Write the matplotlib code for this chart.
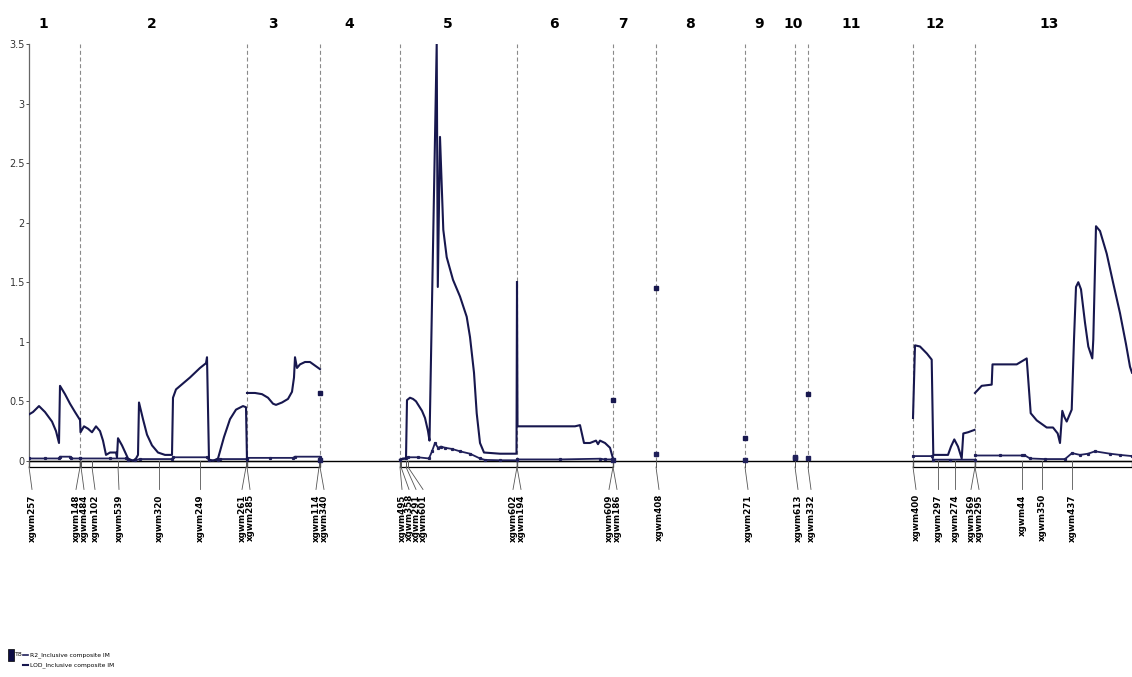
import matplotlib
matplotlib.use('Agg')
import matplotlib.pyplot as plt
from matplotlib.patches import Rectangle

# chromosome names and where they start (map position)
chrom_names = ['1', '2', '3', '4', '5', '6', '7', '8', '9', '10', '11', '12', '13']
chrom_label_x = [43, 152, 273, 349, 448, 554, 623, 690, 759, 793, 851, 935, 1049]
chrom_breaks = [80, 247, 320, 400, 517, 613, 656, 745, 795, 808, 913, 975]
chrom_bars = [(29, 80), (80, 247), (247, 320), (400, 517), (517, 613), (913, 975), (975, 1132)]

# markers
marker_names = ['xgwm257', 'xgwm148', 'xgwm484', 'xgwm102', 'xgwm539', 'xgwm320', 'xgwm249',
                'xgwm261', 'xgwm285', 'xgwm114', 'xgwm340', 'xgwm495', 'xgwm358', 'xgwm291',
                'xgwm601', 'xgwm602', 'xgwm194', 'xgwm609', 'xgwm186', 'xgwm408', 'xgwm271',
                'xgwm613', 'xgwm332', 'xgwm400', 'xgwm297', 'xgwm274', 'xgwm369', 'xgwm295',
                'xgwm44', 'xgwm350', 'xgwm437']
marker_pos = [29, 80, 81, 92, 118, 159, 200, 246, 247, 319, 320, 400, 401, 406, 408, 517, 517,
              613, 613, 656, 745, 795, 808, 913, 938, 955, 975, 975, 1022, 1042, 1072]
label_shift = [3, -4, 3, 3, 1, 0, 0, -4, 3, -3, 4, 2, 8, 10, 15, -4, 4, -4, 4, 3, 3, 3, 3, 3,
               0, 0, -4, 4, 0, 0, 0]

# LOD curves, one list per linkage group
lod_x = [
    [29, 33, 39, 45, 52, 56, 59, 60, 65, 70, 75, 79.5],
    [80, 80.5, 84, 88, 92, 96, 100, 103, 106, 110, 116, 117, 118, 122, 128, 133, 136, 138, 139,
     143, 147, 152, 158, 165, 172, 173, 176, 190, 200, 206, 207, 209, 213, 218, 224, 230, 236,
     243, 246, 247],
    [247, 255, 262, 268, 273, 276, 282, 288, 292, 294, 295, 297, 300, 305, 310, 315, 320],
    [400, 403, 406, 407, 410, 413, 416, 419, 422, 425, 428, 429.5, 436.7, 437.8, 440, 443.3,
     446.7, 453, 460, 466.7, 470, 474, 476.7, 480, 484, 500, 516.5, 517],
    [517, 517.5, 530, 560, 575, 580, 584, 590, 596, 598, 600, 605, 610, 613],
    [913, 915, 920, 927, 931.7, 933.3, 948, 951, 954.3, 958, 961.7, 963.3, 968, 974.5],
    [975, 981.7, 991.7, 992.5, 1005, 1016.7, 1026.7, 1030.7, 1036.7, 1046.7, 1053, 1057.7, 1060,
     1062.3, 1064.3, 1066.7, 1071.7, 1074, 1076, 1078.3, 1081, 1085, 1088.3, 1092.3, 1093.3,
     1096, 1100, 1106.7, 1113, 1120, 1126, 1130, 1132],
]
lod_y = [
    [0.39, 0.41, 0.46, 0.41, 0.33, 0.25, 0.15, 0.63, 0.56, 0.48, 0.41, 0.35],
    [0.35, 0.24, 0.29, 0.27, 0.24, 0.29, 0.25, 0.17, 0.05, 0.07, 0.07, 0.03, 0.19, 0.13, 0.02,
     0.0, 0.02, 0.05, 0.49, 0.35, 0.22, 0.13, 0.07, 0.05, 0.05, 0.53, 0.6, 0.7, 0.78, 0.82, 0.87,
     0.01, 0.0, 0.02, 0.2, 0.35, 0.43, 0.46, 0.45, 0.0],
    [0.57, 0.57, 0.56, 0.53, 0.48, 0.47, 0.49, 0.52, 0.58, 0.7, 0.87, 0.78, 0.81, 0.83, 0.83,
     0.8, 0.77],
    [0.01, 0.02, 0.02, 0.51, 0.53, 0.52, 0.5, 0.46, 0.42, 0.36, 0.25, 0.17, 3.5, 1.46, 2.72,
     1.94, 1.71, 1.52, 1.38, 1.21, 1.04, 0.74, 0.4, 0.15, 0.07, 0.06, 0.06, 1.5],
    [1.5, 0.29, 0.29, 0.29, 0.29, 0.3, 0.15, 0.15, 0.17, 0.14, 0.17, 0.15, 0.11, 0.02],
    [0.36, 0.97, 0.96, 0.9, 0.85, 0.05, 0.05, 0.12, 0.18, 0.12, 0.02, 0.23, 0.24, 0.26],
    [0.57, 0.63, 0.64, 0.81, 0.81, 0.81, 0.86, 0.4, 0.34, 0.28, 0.28, 0.23, 0.15, 0.42, 0.37,
     0.33, 0.43, 1.02, 1.46, 1.5, 1.44, 1.16, 0.96, 0.86, 1.02, 1.97, 1.93, 1.74, 1.5, 1.24,
     0.98, 0.79, 0.74],
]

# R2 curves
r2_x = [
    [29, 45, 59, 60, 70, 71, 79.5],
    [80, 110, 126, 128, 135, 140, 172, 173, 207, 209, 218, 220, 247],
    [247, 270, 293, 295, 320],
    [400, 406, 408, 418, 429, 432, 435, 438, 441, 445, 452, 460, 470, 480, 485, 500, 517],
    [517, 560, 600, 605, 613],
    [913, 932, 933, 950, 975],
    [975, 1000, 1022, 1024, 1030, 1045, 1065, 1072, 1080, 1088, 1095, 1110, 1120, 1132],
]
r2_y = [
    [0.02, 0.02, 0.02, 0.035, 0.035, 0.02, 0.02],
    [0.02, 0.02, 0.02, 0.005, 0.005, 0.015, 0.015, 0.03, 0.03, 0.005, 0.005, 0.015, 0.015],
    [0.025, 0.025, 0.025, 0.035, 0.035],
    [0.01, 0.02, 0.03, 0.03, 0.02, 0.08, 0.15, 0.11, 0.12, 0.11, 0.1, 0.08, 0.06, 0.02, 0.008,
     0.005, 0.005],
    [0.012, 0.012, 0.018, 0.012, 0.012],
    [0.04, 0.04, 0.01, 0.01, 0.01],
    [0.045, 0.045, 0.045, 0.05, 0.02, 0.015, 0.015, 0.065, 0.05, 0.06, 0.08, 0.06, 0.05, 0.04],
]

# single-marker groups (plotted as points)
single_x = [320, 613, 656, 745, 795, 808]
single_lod = [0.57, 0.51, 1.45, 0.19, 0.02, 0.56]
single_r2 = [0.01, 0.01, 0.06, 0.01, 0.03, 0.02]

y_ticks = [0, 0.5, 1, 1.5, 2, 2.5, 3, 3.5]
y_tick_labels = ['0', '0.5', '1', '1.5', '2', '2.5', '3', '3.5']

lod_color = '#17174e'
r2_color = '#20205a'
narrow = ['Liberation Sans Narrow', 'DejaVu Sans']

fig = plt.figure(figsize=(11.32, 6.77), dpi=100)
ax = fig.add_axes([29 / 1132, 1 - 468 / 677, 1103 / 1132, 424 / 677])
ax.set_xlim(29, 1132)
ax.set_ylim(-0.06, 3.5)

# chromosome boundaries
for b in chrom_breaks:
    ax.plot([b, b], [0, 3.5], color='#8a8a8a', lw=0.8, dashes=(3.6, 2.4), zorder=1)

# zero line
ax.axhline(0, color='black', lw=1.0, zorder=3)

# LOD and R2 curves
for xs, ys in zip(r2_x, r2_y):
    ax.plot(xs, ys, color=r2_color, lw=1.3, marker='s', ms=1.3, zorder=4)
for xs, ys in zip(lod_x, lod_y):
    ax.plot(xs, ys, color=lod_color, lw=1.5, zorder=5)
ax.plot(single_x, single_lod, ls='none', marker='s', ms=3, color=lod_color, zorder=5)
ax.plot(single_x, single_r2, ls='none', marker='s', ms=2.5, color=r2_color, zorder=5)

# chromosome bars under the axis
bar_h = 0.052
for x0, x1 in chrom_bars:
    ax.add_patch(Rectangle((x0, -bar_h), x1 - x0, bar_h, facecolor='white',
                           edgecolor='black', lw=0.9, clip_on=False, zorder=2))

# marker ticks, leader lines and names
for name, p, s in zip(marker_names, marker_pos, label_shift):
    ax.plot([p, p], [0, -bar_h], color='#555555', lw=0.7, clip_on=False, zorder=3)
    ax.plot([p, p + s], [-bar_h, -0.24], color='#555555', lw=0.6, clip_on=False)
    ax.text(p + s, -0.28, name, rotation=90, ha='center', va='top', fontsize=6.3,
            fontweight='bold', family='DejaVu Sans', clip_on=False)

# chromosome names
for name, cx in zip(chrom_names, chrom_label_x):
    fig.text(cx / 1132, 1 - 24 / 677, name, ha='center', va='center', fontsize=10,
             fontweight='bold', family=narrow)

# axes styling
for side in ['top', 'right', 'bottom']:
    ax.spines[side].set_visible(False)
ax.spines['left'].set_bounds(0, 3.5)
ax.spines['left'].set_color('#666666')
ax.spines['left'].set_linewidth(0.9)
ax.set_xticks([])
ax.set_yticks(y_ticks)
ax.set_yticklabels(y_tick_labels, family=narrow, fontsize=7)
ax.tick_params(axis='y', length=2, width=0.6, pad=1, colors='#333333')

# legend
fig.patches.append(Rectangle((8 / 1132, 1 - 661 / 677), 6 / 1132, 12 / 677,
                             transform=fig.transFigure, facecolor='#0d0d45',
                             edgecolor='black', lw=0.5))
fig.text(15 / 1132, 1 - 655 / 677, 'T8', fontsize=4.5, va='center', family=narrow)
fig.lines.append(plt.Line2D([23 / 1132, 28 / 1132], [1 - 655 / 677, 1 - 655 / 677],
                            transform=fig.transFigure, color=r2_color, lw=1.2))
fig.text(30 / 1132, 1 - 655 / 677, 'R2_Inclusive composite IM', fontsize=4.3, va='center',
         family=narrow)
fig.lines.append(plt.Line2D([23 / 1132, 28 / 1132], [1 - 665 / 677, 1 - 665 / 677],
                            transform=fig.transFigure, color=lod_color, lw=1.5))
fig.text(30 / 1132, 1 - 665 / 677, 'LOD_Inclusive composite IM', fontsize=4.3, va='center',
         family=narrow)

fig.savefig('out.png', dpi=100)
